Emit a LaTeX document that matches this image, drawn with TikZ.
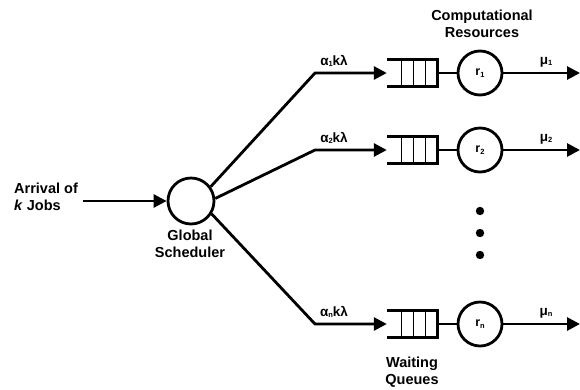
\documentclass[tikz,border=0pt]{standalone}
\usepackage{fontspec}
\setmainfont{Liberation Sans}
\usetikzlibrary{arrows.meta}
\newcommand{\lowidx}[1]{\raisebox{-1.5pt}{\fontsize{7.5}{7.5}\selectfont#1}}
\begin{document}
\begin{tikzpicture}[x=1pt,y=-1pt,
  font=\bfseries\fontsize{14.5}{16.5}\selectfont,
  link/.style={line width=2.8pt},
  flow/.style={link,-{Triangle[length=13pt,width=13pt]}},
  server/.style={circle,draw,line width=2.8pt,minimum size=44pt,inner sep=0pt,font=\bfseries\fontsize{12.5}{12.5}\selectfont},
  queuebox/.style={minimum width=50pt,minimum height=26pt,inner sep=0pt},
  caption/.style={align=center,font=\bfseries\fontsize{14.5}{16.5}\selectfont},
  rate/.style={font=\bfseries\fontsize{13.5}{13.5}\selectfont}]
\useasboundingbox (0,0) rectangle (580,389);

% scheduler and incoming jobs
\node[server,minimum size=46pt] (sched) at (191,201) {};
\node[align=left,anchor=west,inner sep=0pt] (arr) at (14,197) {Arrival of\\\textit{k} Jobs};
\coordinate (in) at (83,201);
\draw[flow] (in) -- (sched.west);
\node[caption] (schedlbl) at (190,244) {Global\\Scheduler};

% one row per resource: queue, server, output
\foreach \id/\yy/\sub/\ang in {1/73/1/36, 2/150/2/6, n/324/n/-32}{
  \coordinate (b\id) at (315,\yy);
  \node[queuebox] (q\id) at (412,\yy) {};
  \node[server] (r\id) at (480,\yy) {r\lowidx{\sub}};
  \coordinate (o\id) at (580,\yy);
  \draw[flow] (sched.\ang) -- (b\id) -- (q\id.west);
  \draw[link] (q\id.north west) -- (q\id.north east) -- (q\id.south east) -- (q\id.south west);
  \foreach \dx in {15,27,39}
    \draw[line width=0.8pt] ([xshift=\dx pt]q\id.north west) -- ([xshift=\dx pt]q\id.south west);
  \draw[link] (q\id.east) -- (r\id.west);
  \draw[flow] (r\id.east) -- (o\id);
  \node[rate] (a\id) at (334,\yy-12) {α\lowidx{\sub}kλ};
  \node[rate] (m\id) at (546,\yy-11) {μ\lowidx{\sub}};
}

% ellipsis between rows
\foreach \k/\yy in {1/211,2/233,3/255}
  \fill (480,\yy) circle (4.2pt) coordinate (dot\k);

\node[caption] (reslbl) at (482,24) {Computational\\Resources};
\node[caption] (qlbl) at (412,372) {Waiting\\Queues};
\end{tikzpicture}
\end{document}
